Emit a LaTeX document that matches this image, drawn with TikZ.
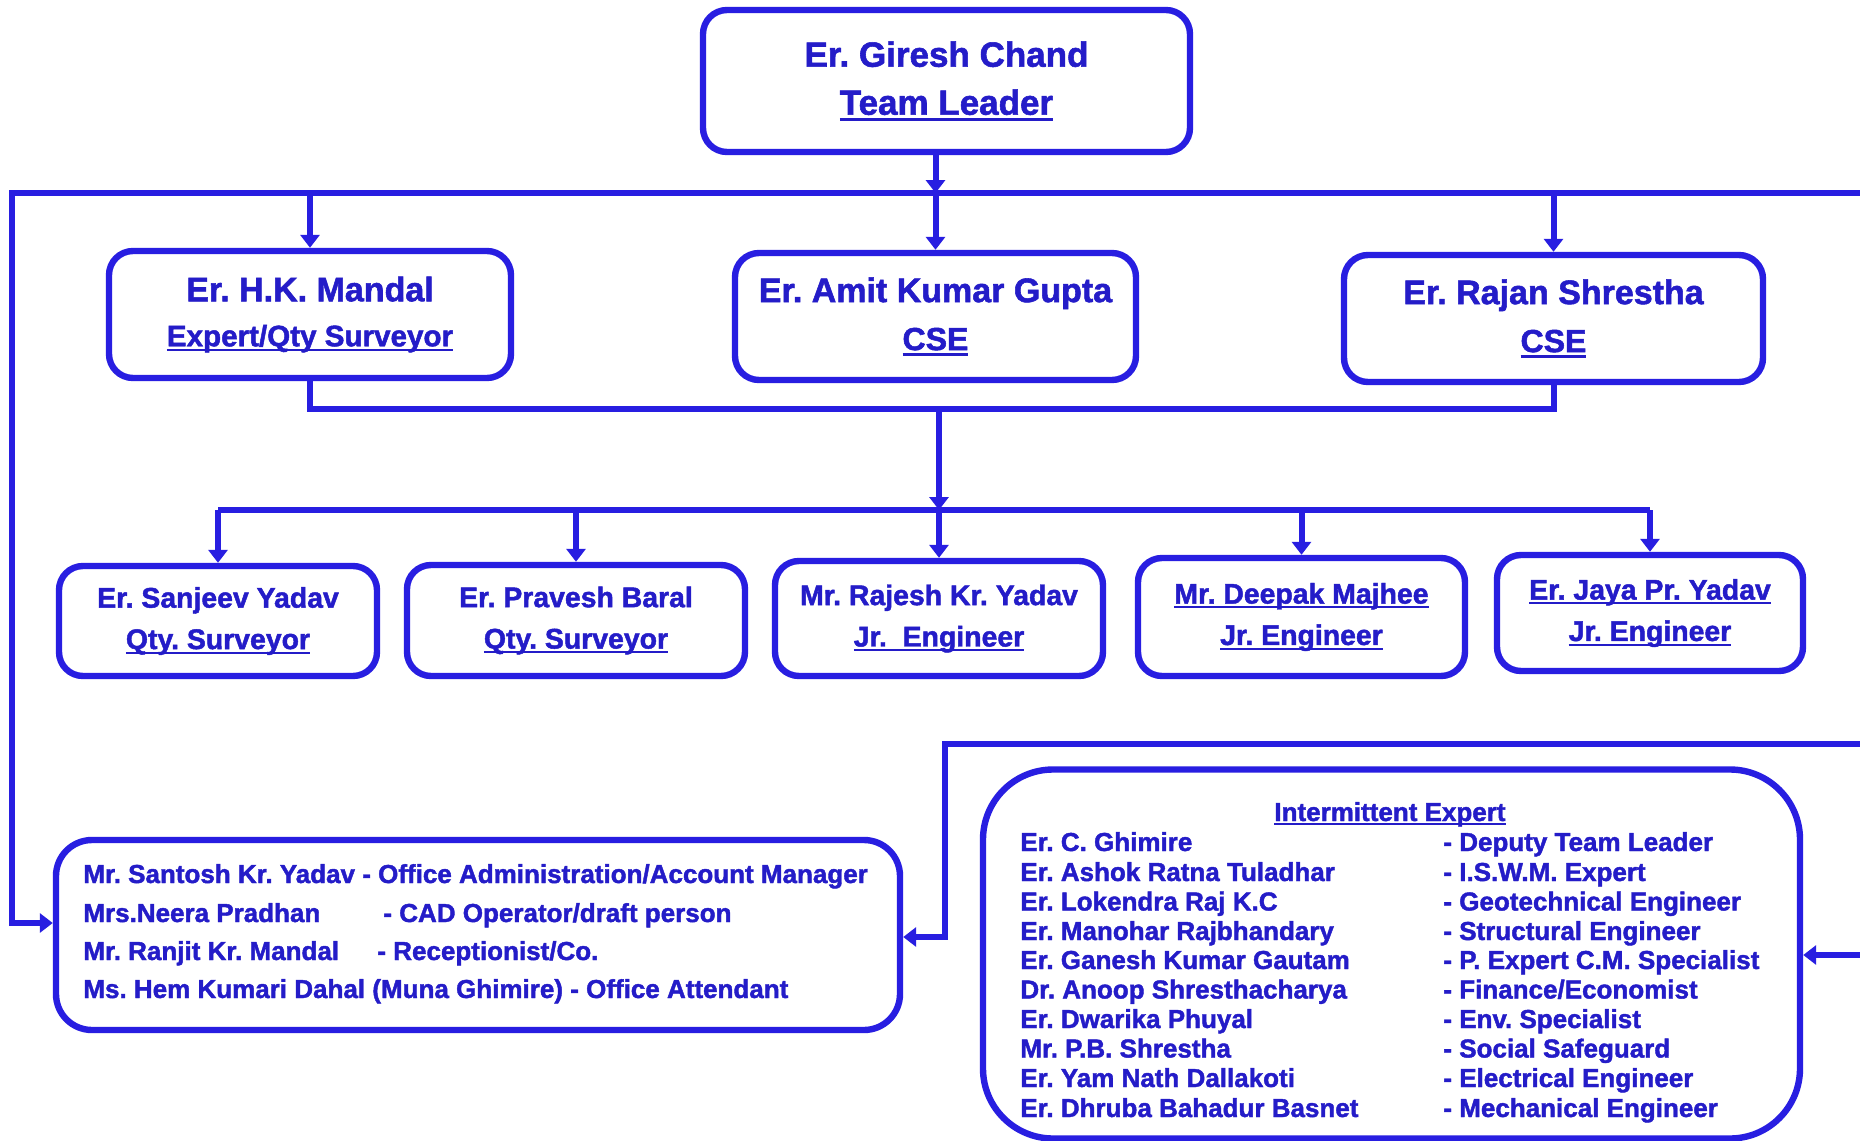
\documentclass[tikz,border=0pt]{standalone}
\usepackage{fontspec}
\setmainfont{Liberation Sans}[BoldFeatures={FakeBold=1.6}]
\usetikzlibrary{arrows.meta}
\definecolor{lineblue}{RGB}{40,30,225}
\definecolor{txtblue}{RGB}{36,28,200}
\frenchspacing
\newcommand\ulin[1]{\setbox0\hbox{#1}\rlap{\rule[-0.17em]{\wd0}{0.08em}}\box0}
\tikzset{
  box/.style={draw=lineblue, line width=3.2pt, rounded corners=12pt, fill=white, text=txtblue, align=center, inner sep=0pt},
  conn/.style={draw=lineblue, line width=3pt, line join=miter},
  arr/.style={conn, -{Triangle[width=9.5pt,length=6.5pt]}},
  txt/.style={text=txtblue, font=\bfseries\fontsize{13}{15}\selectfont, inner sep=0pt, anchor=base west}
}
\begin{document}
\begin{tikzpicture}[x=0.5pt,y=-0.5pt]
\useasboundingbox (0,0) rectangle (1860,1141);
\fill[white] (0,0) rectangle (1860,1141);

% top
\node[box, minimum width=243.5pt, minimum height=71pt, font=\bfseries\fontsize{17.5}{24}\selectfont] (gc) at (946.5,81)
  {Er. Giresh Chand\\ \ulin{Team Leader}};

% middle row
\node[box, minimum width=201pt, minimum height=63.5pt, font=\bfseries\fontsize{17}{22.5}\selectfont] (hk) at (310,314.5)
  {Er. H.K. Mandal\\ {\fontsize{14.8}{22.5}\selectfont\ulin{Expert/Qty Surveyor}}};
\node[box, minimum width=200.5pt, minimum height=63.5pt, font=\bfseries\fontsize{17}{24}\selectfont] (amit) at (935.5,316.5)
  {Er. Amit Kumar Gupta\\ {\fontsize{16}{24}\selectfont\ulin{CSE}}};
\node[box, minimum width=209.5pt, minimum height=63.5pt, font=\bfseries\fontsize{17}{24}\selectfont] (rajan) at (1553.5,318.5)
  {Er. Rajan Shrestha\\ {\fontsize{16}{24}\selectfont\ulin{CSE}}};

% lower row
\tikzset{low/.style={box, font=\bfseries\fontsize{14.2}{20.7}\selectfont}}
\node[low, minimum width=159pt, minimum height=55pt] (sanjeev) at (218,621)
  {Er. Sanjeev Yadav\\ \ulin{Qty. Surveyor}};
\node[low, minimum width=169pt, minimum height=55.5pt] (pravesh) at (576,620.5)
  {Er. Pravesh Baral\\ \ulin{Qty. Surveyor}};
\node[low, minimum width=164pt, minimum height=57.5pt] (rajesh) at (939,618.5)
  {Mr. Rajesh Kr. Yadav\\ \ulin{Jr.\ \ Engineer}};
\node[low, minimum width=163.5pt, minimum height=59pt] (deepak) at (1301.5,617)
  {\ulin{Mr. Deepak Majhee}\\ \ulin{Jr. Engineer}};
\node[low, minimum width=153pt, minimum height=58pt] (jaya) at (1650,613)
  {\ulin{Er. Jaya Pr. Yadav}\\ \ulin{Jr. Engineer}};

% office box
\node[box, minimum width=422pt, minimum height=95pt, rounded corners=18pt] (office) at (478,935) {};
\node[txt] (o1) at (83,883) {Mr. Santosh Kr. Yadav - Office Administration/Account Manager};
\node[txt] (o2a) at (83,922) {Mrs.Neera Pradhan};
\node[txt] (o2b) at (383,922) {- CAD Operator/draft person};
\node[txt] (o3a) at (83,960) {Mr. Ranjit Kr. Mandal};
\node[txt] (o3b) at (377,960) {- Receptionist/Co.};
\node[txt] (o4) at (83,998) {Ms. Hem Kumari Dahal (Muna Ghimire) - Office Attendant};

% intermittent expert box
\node[box, minimum width=408.5pt, minimum height=184.5pt, rounded corners=35pt] (inter) at (1391.5,954) {};
\node[txt, anchor=base] (ih) at (1390,821) {\ulin{Intermittent Expert}};
\foreach \n/\r/\y [count=\i] in {
  Er. C. Ghimire/Deputy Team Leader/851,
  Er. Ashok Ratna Tuladhar/I.S.W.M. Expert/881,
  Er. Lokendra Raj K.C/Geotechnical Engineer/910.5,
  Er. Manohar Rajbhandary/Structural Engineer/940,
  Er. Ganesh Kumar Gautam/P. Expert C.M. Specialist/969,
  Dr. Anoop Shresthacharya/Finance{/}Economist/998.5,
  Er. Dwarika Phuyal/Env. Specialist/1028,
  Mr. P.B. Shrestha/Social Safeguard/1057.5,
  Er. Yam Nath Dallakoti/Electrical Engineer/1087,
  Er. Dhruba Bahadur Basnet/Mechanical Engineer/1117}{
  \node[txt] (in\i) at (1020,\y) {\n};
  \node[txt] (ir\i) at (1443,\y) {- \r};
}

% connectors
\coordinate (busL) at (12,193);
\coordinate (busR) at (1860,193);
\coordinate (lcorner) at (12,923);
\draw[arr] (busR) -- (busL) -- (lcorner) -- (office.west |- lcorner);
\draw[arr] (amit.north |- gc.south) -- (amit.north |- busL);
\draw[arr] (amit.north |- busL) -- (amit.north);
\draw[arr] (hk.north |- busL) -- (hk.north);
\draw[arr] (rajan.north |- busL) -- (rajan.north);

\coordinate (lb) at (939,409);
\coordinate (rb) at (939,510);
\draw[conn] (hk.south) -- (hk.south |- lb) -- (rajan.south |- lb) -- (rajan.south);
\draw[arr] (lb) -- (rb);
\draw[conn] (sanjeev.north |- rb) -- (jaya.north |- rb);
\foreach \b in {sanjeev,pravesh,rajesh,deepak,jaya}
  \draw[arr] (\b.north |- rb) -- (\b.north);

\coordinate (rt) at (1860,744);
\coordinate (rc) at (945,744);
\coordinate (rd) at (945,937);
\draw[arr] (rt) -- (rc) -- (rd) -- (office.east |- rd);
\coordinate (ri) at (1860,955);
\draw[arr] (ri) -- (inter.east |- ri);
\end{tikzpicture}
\end{document}
